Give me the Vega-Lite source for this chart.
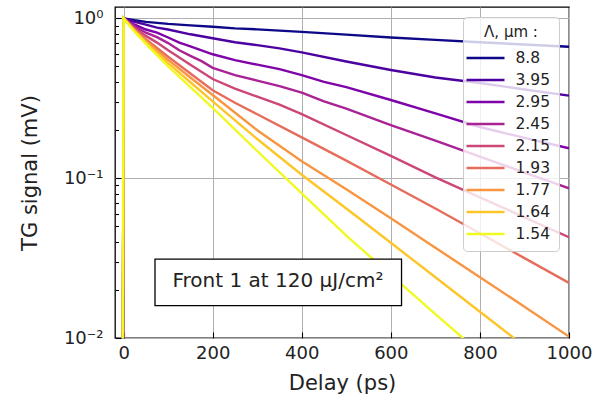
{
  "$schema": "https://vega.github.io/schema/vega-lite/v6.json",
  "width": 454,
  "height": 331,
  "autosize": "none",
  "padding": {"left": 115, "top": 7, "right": 27, "bottom": 59},
  "background": "white",
  "config": {
    "view": {"stroke": "black", "strokeWidth": 1.3},
    "font": "DejaVu Sans",
    "axis": {"labelFont": "DejaVu Sans", "titleFont": "DejaVu Sans", "labelColor": "#222", "titleColor": "#222", "titleFontWeight": "normal", "domain": false, "tickColor": "black", "tickWidth": 1.1, "gridColor": "#b0b0b0", "gridWidth": 1, "labelFlush": false, "labelOverlap": false}
  },
  "datasets": {
    "curves": [
      {"lam": "8.8", "t": -2, "s": 0.001}, {"lam": "8.8", "t": 0, "s": 1.0}, {"lam": "8.8", "t": 25, "s": 0.9727}, {"lam": "8.8", "t": 50, "s": 0.9506}, {"lam": "8.8", "t": 100, "s": 0.9226}, {"lam": "8.8", "t": 150, "s": 0.9036}, {"lam": "8.8", "t": 200, "s": 0.8851}, {"lam": "8.8", "t": 250, "s": 0.8655}, {"lam": "8.8", "t": 300, "s": 0.8531}, {"lam": "8.8", "t": 400, "s": 0.8222}, {"lam": "8.8", "t": 500, "s": 0.7907}, {"lam": "8.8", "t": 600, "s": 0.7586}, {"lam": "8.8", "t": 700, "s": 0.7328}, {"lam": "8.8", "t": 800, "s": 0.7079}, {"lam": "8.8", "t": 900, "s": 0.6855}, {"lam": "8.8", "t": 1000, "s": 0.6637},
      {"lam": "3.95", "t": -2, "s": 0.001}, {"lam": "3.95", "t": 0, "s": 1.0}, {"lam": "3.95", "t": 25, "s": 0.9506}, {"lam": "3.95", "t": 50, "s": 0.912}, {"lam": "3.95", "t": 75, "s": 0.875}, {"lam": "3.95", "t": 100, "s": 0.8511}, {"lam": "3.95", "t": 150, "s": 0.7943}, {"lam": "3.95", "t": 200, "s": 0.7499}, {"lam": "3.95", "t": 250, "s": 0.7079}, {"lam": "3.95", "t": 300, "s": 0.6792}, {"lam": "3.95", "t": 350, "s": 0.6486}, {"lam": "3.95", "t": 400, "s": 0.6124}, {"lam": "3.95", "t": 500, "s": 0.537}, {"lam": "3.95", "t": 600, "s": 0.4753}, {"lam": "3.95", "t": 700, "s": 0.4266}, {"lam": "3.95", "t": 800, "s": 0.3936}, {"lam": "3.95", "t": 900, "s": 0.3589}, {"lam": "3.95", "t": 1000, "s": 0.3281},
      {"lam": "2.95", "t": -2, "s": 0.001}, {"lam": "2.95", "t": 0, "s": 1.0}, {"lam": "2.95", "t": 25, "s": 0.912}, {"lam": "2.95", "t": 50, "s": 0.8511}, {"lam": "2.95", "t": 75, "s": 0.8128}, {"lam": "2.95", "t": 100, "s": 0.7586}, {"lam": "2.95", "t": 125, "s": 0.7047}, {"lam": "2.95", "t": 150, "s": 0.6683}, {"lam": "2.95", "t": 200, "s": 0.5957}, {"lam": "2.95", "t": 250, "s": 0.547}, {"lam": "2.95", "t": 300, "s": 0.5129}, {"lam": "2.95", "t": 350, "s": 0.4808}, {"lam": "2.95", "t": 400, "s": 0.4416}, {"lam": "2.95", "t": 450, "s": 0.3999}, {"lam": "2.95", "t": 500, "s": 0.3715}, {"lam": "2.95", "t": 600, "s": 0.3083}, {"lam": "2.95", "t": 700, "s": 0.2541}, {"lam": "2.95", "t": 800, "s": 0.2089}, {"lam": "2.95", "t": 900, "s": 0.1786}, {"lam": "2.95", "t": 1000, "s": 0.1538},
      {"lam": "2.45", "t": -2, "s": 0.001}, {"lam": "2.45", "t": 0, "s": 1.0}, {"lam": "2.45", "t": 25, "s": 0.8913}, {"lam": "2.45", "t": 50, "s": 0.8128}, {"lam": "2.45", "t": 75, "s": 0.7621}, {"lam": "2.45", "t": 100, "s": 0.6998}, {"lam": "2.45", "t": 125, "s": 0.631}, {"lam": "2.45", "t": 150, "s": 0.5821}, {"lam": "2.45", "t": 175, "s": 0.5395}, {"lam": "2.45", "t": 200, "s": 0.4898}, {"lam": "2.45", "t": 250, "s": 0.4416}, {"lam": "2.45", "t": 300, "s": 0.4074}, {"lam": "2.45", "t": 350, "s": 0.3767}, {"lam": "2.45", "t": 400, "s": 0.3428}, {"lam": "2.45", "t": 450, "s": 0.302}, {"lam": "2.45", "t": 500, "s": 0.2723}, {"lam": "2.45", "t": 600, "s": 0.2148}, {"lam": "2.45", "t": 700, "s": 0.1718}, {"lam": "2.45", "t": 800, "s": 0.1365}, {"lam": "2.45", "t": 900, "s": 0.1084}, {"lam": "2.45", "t": 1000, "s": 0.0863},
      {"lam": "2.15", "t": -2, "s": 0.001}, {"lam": "2.15", "t": 0, "s": 1.0}, {"lam": "2.15", "t": 25, "s": 0.871}, {"lam": "2.15", "t": 50, "s": 0.7762}, {"lam": "2.15", "t": 75, "s": 0.7047}, {"lam": "2.15", "t": 100, "s": 0.631}, {"lam": "2.15", "t": 150, "s": 0.5129}, {"lam": "2.15", "t": 200, "s": 0.4169}, {"lam": "2.15", "t": 250, "s": 0.3631}, {"lam": "2.15", "t": 300, "s": 0.3236}, {"lam": "2.15", "t": 350, "s": 0.2884}, {"lam": "2.15", "t": 400, "s": 0.2512}, {"lam": "2.15", "t": 500, "s": 0.1862}, {"lam": "2.15", "t": 600, "s": 0.138}, {"lam": "2.15", "t": 700, "s": 0.1012}, {"lam": "2.15", "t": 800, "s": 0.0759}, {"lam": "2.15", "t": 900, "s": 0.0569}, {"lam": "2.15", "t": 1000, "s": 0.0427},
      {"lam": "1.93", "t": -2, "s": 0.001}, {"lam": "1.93", "t": 0, "s": 1.0}, {"lam": "1.93", "t": 25, "s": 0.8511}, {"lam": "1.93", "t": 50, "s": 0.7413}, {"lam": "1.93", "t": 100, "s": 0.5754}, {"lam": "1.93", "t": 150, "s": 0.4519}, {"lam": "1.93", "t": 200, "s": 0.3548}, {"lam": "1.93", "t": 250, "s": 0.2965}, {"lam": "1.93", "t": 300, "s": 0.2512}, {"lam": "1.93", "t": 400, "s": 0.1799}, {"lam": "1.93", "t": 500, "s": 0.1288}, {"lam": "1.93", "t": 600, "s": 0.0912}, {"lam": "1.93", "t": 700, "s": 0.0646}, {"lam": "1.93", "t": 800, "s": 0.0452}, {"lam": "1.93", "t": 900, "s": 0.0316}, {"lam": "1.93", "t": 1000, "s": 0.0221},
      {"lam": "1.77", "t": -2, "s": 0.001}, {"lam": "1.77", "t": 0, "s": 1.0}, {"lam": "1.77", "t": 25, "s": 0.8414}, {"lam": "1.77", "t": 50, "s": 0.7244}, {"lam": "1.77", "t": 100, "s": 0.5495}, {"lam": "1.77", "t": 150, "s": 0.4266}, {"lam": "1.77", "t": 200, "s": 0.3311}, {"lam": "1.77", "t": 300, "s": 0.1995}, {"lam": "1.77", "t": 400, "s": 0.1274}, {"lam": "1.77", "t": 500, "s": 0.0851}, {"lam": "1.77", "t": 600, "s": 0.0562}, {"lam": "1.77", "t": 700, "s": 0.0367}, {"lam": "1.77", "t": 800, "s": 0.024}, {"lam": "1.77", "t": 900, "s": 0.0157}, {"lam": "1.77", "t": 1000, "s": 0.0102},
      {"lam": "1.64", "t": -2, "s": 0.001}, {"lam": "1.64", "t": 0, "s": 1.0}, {"lam": "1.64", "t": 25, "s": 0.8318}, {"lam": "1.64", "t": 50, "s": 0.7079}, {"lam": "1.64", "t": 100, "s": 0.5248}, {"lam": "1.64", "t": 150, "s": 0.3981}, {"lam": "1.64", "t": 200, "s": 0.302}, {"lam": "1.64", "t": 300, "s": 0.1758}, {"lam": "1.64", "t": 400, "s": 0.105}, {"lam": "1.64", "t": 500, "s": 0.0646}, {"lam": "1.64", "t": 600, "s": 0.0394}, {"lam": "1.64", "t": 700, "s": 0.024}, {"lam": "1.64", "t": 800, "s": 0.0146}, {"lam": "1.64", "t": 900, "s": 0.0089}, {"lam": "1.64", "t": 1000, "s": 0.0054},
      {"lam": "1.54", "t": -3, "s": 0.001}, {"lam": "1.54", "t": 0, "s": 1.0}, {"lam": "1.54", "t": 25, "s": 0.8222}, {"lam": "1.54", "t": 50, "s": 0.6918}, {"lam": "1.54", "t": 100, "s": 0.5012}, {"lam": "1.54", "t": 150, "s": 0.3715}, {"lam": "1.54", "t": 200, "s": 0.2754}, {"lam": "1.54", "t": 300, "s": 0.1479}, {"lam": "1.54", "t": 400, "s": 0.0804}, {"lam": "1.54", "t": 500, "s": 0.0437}, {"lam": "1.54", "t": 600, "s": 0.0248}, {"lam": "1.54", "t": 700, "s": 0.0141}, {"lam": "1.54", "t": 800, "s": 0.0081}, {"lam": "1.54", "t": 900, "s": 0.0046}, {"lam": "1.54", "t": 1000, "s": 0.0026}
    ],
    "annot": [
      {"x1": 70.5, "x2": 624, "y1": 0.03119, "y2": 0.01592, "tx": 346.6, "ty": 0.02084, "label": "Front 1 at 120 μJ/cm²"}
    ]
  },
  "resolve": {"axis": {"y": "independent"}},
  "layer": [
    {
      "data": {"name": "curves"},
      "mark": {"type": "line", "strokeWidth": 2.4, "clip": true},
      "encoding": {
        "x": {"field": "t", "type": "quantitative",
              "scale": {"domain": [-19.3, 1000], "nice": false, "zero": false},
              "axis": {"values": [0, 200, 400, 600, 800, 1000], "format": "d", "title": "Delay (ps)", "grid": true, "tickSize": 6, "offset": -6, "labelFontSize": 18, "labelPadding": 6, "titleFontSize": 21, "titlePadding": 10}},
        "y": {"field": "s", "type": "quantitative",
              "scale": {"type": "log", "domain": [0.01, 1.177], "nice": false},
              "axis": {"orient": "left", "values": [0.01, 0.1, 1],
                       "labelExpr": "datum.value > 0.5 ? '10⁰' : (datum.value > 0.05 ? '10⁻¹' : '10⁻²')",
                       "grid": true, "tickSize": 6, "offset": -6,
                       "labelFontSize": 18, "labelPadding": 12, "title": "TG signal (mV)", "titleFontSize": 21, "titlePadding": 23}},
        "color": {"field": "lam", "type": "nominal",
                  "scale": {"domain": ["8.8", "3.95", "2.95", "2.45", "2.15", "1.93", "1.77", "1.64", "1.54"],
                            "range": ["#0d0887", "#4c02a1", "#7e03a8", "#a92395", "#cc4778", "#e66c5c", "#f89540", "#fdc527", "#f0f921"]},
                  "legend": {"orient": "top-right", "offset": 10, "title": "Λ, μm :", "titleFontSize": 15, "titleFontWeight": "normal", "titleFont": "DejaVu Sans", "titleColor": "#222", "titleAnchor": "middle", "titlePadding": 7,
                             "labelFontSize": 15.5, "labelFont": "DejaVu Sans", "labelColor": "#222", "labelOffset": 19,
                             "symbolType": "M-2,0H2", "symbolSize": 361, "symbolOffset": 3.5, "symbolStrokeWidth": 2.5, "rowPadding": 2,
                             "padding": 8, "fillColor": "rgba(255,255,255,0.8)", "strokeColor": "#cccccc", "cornerRadius": 4}}
      }
    },
    {
      "data": {"name": "annot"},
      "mark": {"type": "rect", "fill": "white", "stroke": "black", "strokeWidth": 1.3},
      "encoding": {
        "x": {"field": "x1", "type": "quantitative",
              "axis": {"values": [0, 200, 400, 600, 800, 1000], "format": "d", "title": "Delay (ps)", "grid": true, "tickSize": 6, "offset": -6, "labelFontSize": 18, "labelPadding": 6, "titleFontSize": 21, "titlePadding": 10}},
        "x2": {"field": "x2"},
        "y": {"field": "y1", "type": "quantitative",
              "axis": {"orient": "left", "values": [0.02, 0.03, 0.04, 0.05, 0.06, 0.07, 0.08, 0.09, 0.2, 0.3, 0.4, 0.5, 0.6, 0.7, 0.8, 0.9], "labels": false, "grid": false, "tickSize": 3.5, "offset": -3.5, "title": null}},
        "y2": {"field": "y2"}
      }
    },
    {
      "data": {"name": "annot"},
      "mark": {"type": "text", "fontSize": 20, "font": "DejaVu Sans", "color": "#222", "baseline": "alphabetic", "align": "center"},
      "encoding": {
        "x": {"field": "tx", "type": "quantitative",
              "axis": {"values": [0, 200, 400, 600, 800, 1000], "format": "d", "title": "Delay (ps)", "grid": true, "tickSize": 6, "offset": -6, "labelFontSize": 18, "labelPadding": 6, "titleFontSize": 21, "titlePadding": 10}},
        "y": {"field": "ty", "type": "quantitative", "axis": null},
        "text": {"field": "label"}
      }
    }
  ]
}
